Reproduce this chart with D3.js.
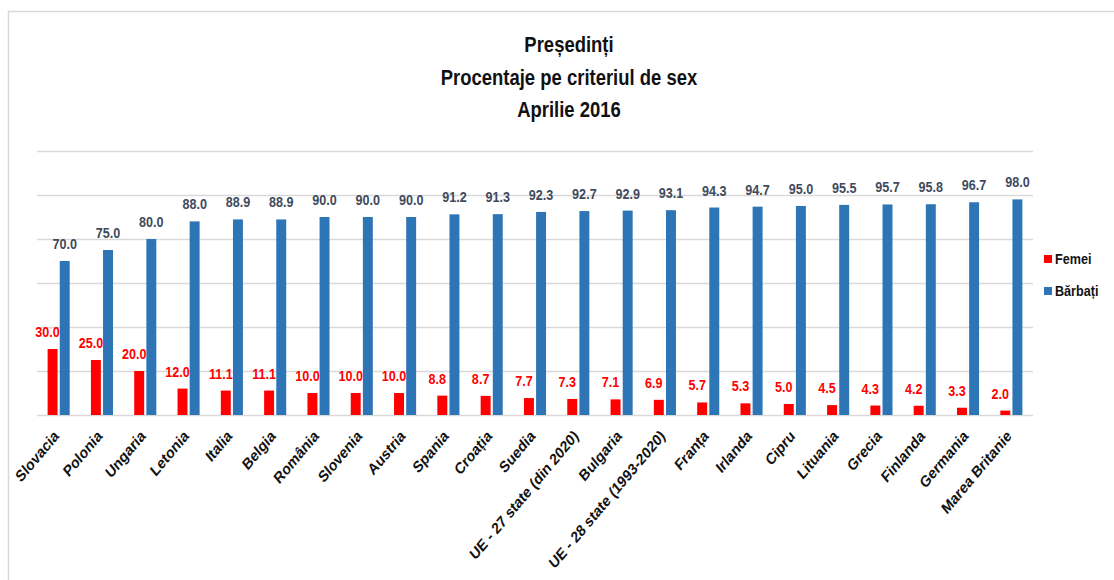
<!DOCTYPE html>
<html>
<head>
<meta charset="utf-8">
<script src="https://cdn.jsdelivr.net/npm/d3@7"></script>
<style>
  body { margin: 0; background: #fff; }
  svg { display: block; font-family: "Liberation Sans", Arial, sans-serif; }
</style>
</head>
<body>
<svg id="chart"></svg>
<script>
// categories and values
var categories = ["Slovacia", "Polonia", "Ungaria", "Letonia", "Italia", "Belgia", "România", "Slovenia",
  "Austria", "Spania", "Croația", "Suedia", "UE - 27 state (din 2020)", "Bulgaria", "UE - 28 state (1993-2020)",
  "Franța", "Irlanda", "Cipru", "Lituania", "Grecia", "Finlanda", "Germania", "Marea Britanie"];
var femei = [30.0, 25.0, 20.0, 12.0, 11.1, 11.1, 10.0, 10.0, 10.0, 8.8, 8.7, 7.7, 7.3, 7.1, 6.9, 5.7, 5.3, 5.0, 4.5, 4.3, 4.2, 3.3, 2.0];
var barbati = [70.0, 75.0, 80.0, 88.0, 88.9, 88.9, 90.0, 90.0, 90.0, 91.2, 91.3, 92.3, 92.7, 92.9, 93.1, 94.3, 94.7, 95.0, 95.5, 95.7, 95.8, 96.7, 98.0];
var seriesNames = ["Femei", "Bărbați"];
var gridTicks = [0, 20, 40, 60, 80, 100, 120];
var titleLines = ["Președinți", "Procentaje pe criteriul de sex", "Aprilie 2016"];

var W = 1114, H = 580;
var margin = {top: 151, right: 81, bottom: 165, left: 37},
  width = W - margin.left - margin.right,
  height = H - margin.top - margin.bottom;
var squeeze = 0.84; // the picture is squeezed sideways, so the text is too

var svg = d3.select("#chart").attr("width", W).attr("height", H);

// outer border of the chart area
svg.append("rect")
  .attr("x", 8.5).attr("y", 11.5)
  .attr("width", W + 10).attr("height", H + 10)
  .attr("fill", "none")
  .attr("stroke", "#d9d9d9")
  .attr("stroke-width", 1.5);

var colors = {"Femei": "#ff0000", "Bărbați": "#2e75b6"};
var labelColors = {"Femei": "#ff0000", "Bărbați": "#404a5c"};

var x = d3.scaleBand().domain(categories).range([0, width]).paddingInner(0.49).paddingOuter(0.245);
var xs = d3.scaleBand().domain(seriesNames).range([0, x.bandwidth()]).paddingInner(0.18);
var y = d3.scaleLinear().domain([0, 120]).range([height, 0]);

var g = svg.append("g").attr("transform", "translate(" + margin.left + "," + margin.top + ")");

// gridlines
g.append("g")
  .call(d3.axisLeft(y).tickValues(gridTicks).tickSize(-width).tickFormat(""))
  .call(function(a) {
    a.select(".domain").remove();
    a.selectAll(".tick line").attr("stroke", "#d9d9d9").attr("stroke-width", 1.5);
  });

var rows = categories.map(function(c, i) {
  return {cat: c, vals: [{s: "Femei", v: femei[i]}, {s: "Bărbați", v: barbati[i]}]};
});

var groups = g.selectAll(".grp")
  .data(rows)
  .enter().append("g")
  .attr("class", "grp")
  .attr("transform", function(d) { return "translate(" + x(d.cat) + ",0)"; });

groups.selectAll("rect")
  .data(function(d) { return d.vals; })
  .enter().append("rect")
  .attr("x", function(d) { return xs(d.s); })
  .attr("y", function(d) { return y(d.v); })
  .attr("width", xs.bandwidth())
  .attr("height", function(d) { return height - y(d.v); })
  .attr("fill", function(d) { return colors[d.s]; });

groups.selectAll("text")
  .data(function(d) { return d.vals; })
  .enter().append("text")
  .attr("transform", function(d) {
    var lx = xs(d.s) + xs.bandwidth() / 2 + (d.s === "Femei" ? -5 : 0);
    return "translate(" + lx + "," + (y(d.v) - 12) + ") scale(" + squeeze + ",1)";
  })
  .attr("text-anchor", "middle")
  .attr("font-size", "15px")
  .attr("font-weight", "bold")
  .attr("fill", function(d) { return labelColors[d.s]; })
  .text(function(d) { return d.v.toFixed(1); });

// category labels
var xAxis = g.append("g")
  .attr("transform", "translate(0," + height + ")")
  .call(d3.axisBottom(x).tickSize(0).tickPadding(0));
xAxis.select(".domain").remove();
xAxis.selectAll("text")
  .attr("font-family", "Liberation Sans, Arial, sans-serif")
  .attr("font-size", "16px")
  .attr("font-weight", "bold")
  .attr("fill", "#111")
  .attr("text-anchor", "end")
  .attr("dy", "0")
  .attr("y", 0)
  .attr("transform", "translate(1,22) scale(" + squeeze + ",1) rotate(-45)");

// title
svg.append("g").selectAll("text")
  .data(titleLines)
  .enter().append("text")
  .attr("transform", function(d, i) { return "translate(569," + (52 + i * 32.5) + ") scale(" + squeeze + ",1)"; })
  .attr("text-anchor", "middle")
  .attr("font-size", "22px")
  .attr("font-weight", "bold")
  .attr("fill", "#111")
  .text(function(d) { return d; });

// legend
var legend = svg.append("g").attr("transform", "translate(1044,255)");
var li = legend.selectAll("g")
  .data(seriesNames)
  .enter().append("g")
  .attr("transform", function(d, i) { return "translate(0," + i * 32 + ")"; });
li.append("rect").attr("width", 8).attr("height", 8).attr("fill", function(d) { return colors[d]; });
li.append("text")
  .attr("transform", "translate(11,9) scale(" + squeeze + ",1)")
  .attr("font-size", "15px")
  .attr("font-weight", "bold")
  .attr("fill", "#111")
  .text(function(d) { return d; });
</script>
</body>
</html>
